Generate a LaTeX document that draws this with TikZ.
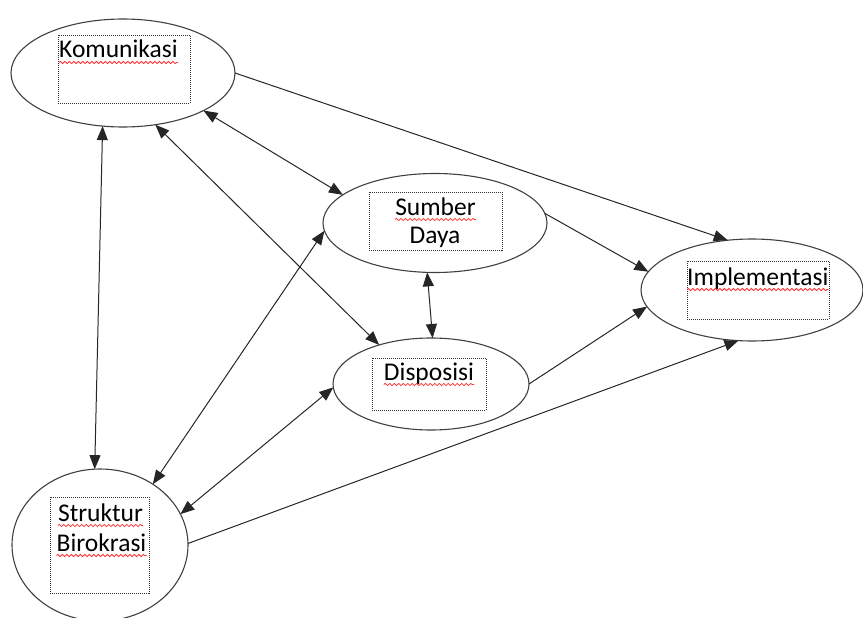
\documentclass[tikz,border=0pt]{standalone}
\usepackage{fontspec}
\setmainfont{Carlito}
\usepackage{tikz}
\usetikzlibrary{shapes.geometric}
\usetikzlibrary{arrows.meta}
\usetikzlibrary{decorations.pathmorphing}
\tikzset{factor/.style={ellipse, draw=black!75, line width=1.1pt, inner sep=0pt, outer sep=0pt},
%dotted text frame inside a factor
txtframe/.style={draw=black!80, line width=0.8pt, dash pattern=on 1pt off 1pt},
word/.style={inner sep=0pt, font=\fontsize{25.5}{28}\selectfont},
spell/.style={draw=red!80, line width=0.8pt, decorate, decoration={snake, segment length=4.5pt, amplitude=1.1pt}},
oneway/.style={line width=1pt, draw=black!85, -{Triangle[length=14pt,width=11pt]}},
twoway/.style={line width=1pt, draw=black!85, {Triangle[length=14pt,width=11pt]}-{Triangle[length=14pt,width=11pt]}}}

\begin{document}
\begin{tikzpicture}[x=1pt,y=-1pt]
\useasboundingbox (0,0) rectangle (863,618);
% factors
\node[factor, minimum width=224pt, minimum height=108pt] (kom) at (123,73) {};
\node[factor, minimum width=224pt, minimum height=99pt] (sum) at (435,223) {};
\node[factor, minimum width=222pt, minimum height=102pt] (imp) at (752,290) {};
\node[factor, minimum width=196pt, minimum height=92pt] (disp) at (431,384) {};
\node[factor, minimum width=176pt, minimum height=152pt] (struk) at (100,545) {};

% text frames
\draw[txtframe] (58,35) rectangle (190,103);
\draw[txtframe] (369,192) rectangle (502,250);
\draw[txtframe] (687,261) rectangle (829,319);
\draw[txtframe] (372,358) rectangle (486,410);
\draw[txtframe] (50,497) rectangle (149,593);

%labels
\node[word, anchor=base west] (komt) at (59,58) {Komunikasi};
\node[word, anchor=base] (sumt) at (435.5,215) {Sumber};
\node[word, anchor=base] (dayat) at (435,243) {Daya};
\node[word, anchor=base west] (impt) at (687,285) {Implementasi};
\node[word, anchor=base] (dispt) at (429,380) {Disposisi};
\node[word, anchor=base] (strt) at (100.5,521) {Struktur};
\node[word, anchor=base] (birt) at (101.5,551) {Birokrasi};

\foreach \w in {komt,sumt,impt,dispt,strt,birt}
     \draw[spell] ([yshift=-4.5pt]\w.base west) -- ([yshift=-4.5pt]\w.base east);

% connectors
\draw[oneway] (kom.0) -- (imp.116);
\draw[twoway] (kom.-25) -- (sum.163);
\draw[twoway] (kom.-58) -- (disp.143);
\draw[twoway] (kom.-111) -- (struk.94);
\draw[twoway] (sum.184) -- (struk.49);
\draw[oneway] (sum.5) -- (imp.170);
\draw[twoway] (sum.-99) -- (disp.88);
\draw[twoway] (disp.182) -- (struk.21);
\draw[oneway] (disp.0) -- (imp.-171);
\draw[oneway] (struk.1) -- (imp.-105);

\end{tikzpicture}
\end{document}
